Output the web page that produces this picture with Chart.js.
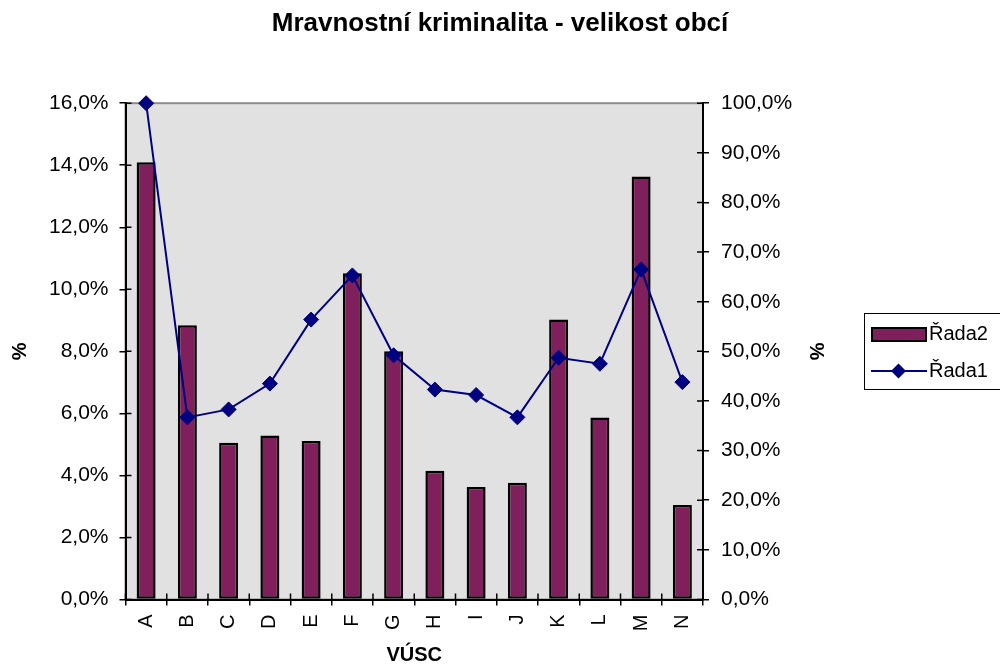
<!DOCTYPE html>
<html>
<head>
<meta charset="utf-8">
<script src="https://cdn.jsdelivr.net/npm/chart.js@4"></script>
<style>
  html, body { margin: 0; padding: 0; background: #fff; }
  #wrap { width: 1000px; height: 664px; }
</style>
</head>
<body>
<div id="wrap"><canvas id="graph" width="1000" height="664"></canvas></div>
<script>
const categories = ["A", "B", "C", "D", "E", "F", "G", "H", "I", "J", "K", "L", "M", "N"];
// Řada2 - bars, left axis (%)
const rada2 = [14.1, 8.84, 5.05, 5.29, 5.11, 10.52, 8.0, 4.15, 3.63, 3.76, 9.03, 5.87, 13.64, 3.05];
// Řada1 - line, right axis (%)
const rada1 = [100, 36.7, 38.3, 43.5, 56.4, 65.3, 49.2, 42.3, 41.2, 36.7, 48.7, 47.5, 66.5, 43.8];

const fontFamily = "'Liberation Sans', Arial, sans-serif";
Chart.defaults.font.family = fontFamily;
Chart.defaults.color = "#000";

const pct = (v) => Number(v).toFixed(1).replace(".", ",") + "%";

const graph = document.getElementById("graph");

// grey plot area behind everything
const plotBackground = {
  id: "plotBackground",
  beforeDraw(chart) {
    const { ctx, chartArea: a } = chart;
    ctx.save();
    ctx.fillStyle = "#fff";
    ctx.fillRect(0, 0, chart.width, chart.height);
    ctx.fillStyle = "#e1e1e1";
    ctx.fillRect(a.left, a.top, a.right - a.left, a.bottom - a.top);
    ctx.strokeStyle = "#8c8c8c";
    ctx.lineWidth = 2;
    ctx.strokeRect(a.left, a.top, a.right - a.left, a.bottom - a.top);
    ctx.restore();
  },
};

// tick marks cross the axes, draw the inner half
const innerTicks = {
  id: "innerTicks",
  beforeDatasetsDraw(chart) {
    const { ctx, chartArea: a, scales } = chart;
    ctx.save();
    ctx.strokeStyle = "#000";
    ctx.lineWidth = 1.5;
    ctx.beginPath();
    for (let i = 0; i <= categories.length; i++) {
      const x = scales.x.getPixelForValue(i - 0.5);
      ctx.moveTo(x, a.bottom);
      ctx.lineTo(x, a.bottom - 6);
    }
    scales.y.ticks.forEach((t) => {
      const y = scales.y.getPixelForValue(t.value);
      ctx.moveTo(a.left, y);
      ctx.lineTo(a.left + 6, y);
    });
    scales.y1.ticks.forEach((t) => {
      const y = scales.y1.getPixelForValue(t.value);
      ctx.moveTo(a.right, y);
      ctx.lineTo(a.right - 6, y);
    });
    ctx.stroke();
    ctx.restore();
  },
};

// boxed legend on the right
const boxLegend = {
  id: "boxLegend",
  afterDraw(chart) {
    const { ctx } = chart;
    const bar = chart.data.datasets[1];
    const line = chart.data.datasets[0];
    ctx.save();
    ctx.strokeStyle = "#000";
    ctx.lineWidth = 1;
    ctx.strokeRect(864.5, 313.5, 140, 76);

    ctx.fillStyle = bar.backgroundColor;
    ctx.fillRect(872, 328, 54, 13);
    ctx.lineWidth = 2;
    ctx.strokeRect(872, 328, 54, 13);

    ctx.strokeStyle = line.borderColor;
    ctx.lineWidth = 2;
    ctx.beginPath();
    ctx.moveTo(871, 371);
    ctx.lineTo(927, 371);
    ctx.stroke();
    ctx.fillStyle = line.pointBackgroundColor;
    ctx.beginPath();
    ctx.moveTo(898.5, 363.5);
    ctx.lineTo(906, 371);
    ctx.lineTo(898.5, 378.5);
    ctx.lineTo(891, 371);
    ctx.closePath();
    ctx.fill();

    ctx.fillStyle = "#000";
    ctx.font = "20px " + fontFamily;
    ctx.textBaseline = "middle";
    ctx.textAlign = "left";
    ctx.fillText(bar.label, 929, 334);
    ctx.fillText(line.label, 929, 371);
    ctx.restore();
  },
};

const data = {
  labels: categories,
  datasets: [
    {
      type: "line",
      label: "Řada1",
      data: rada1,
      yAxisID: "y1",
      borderColor: "#000080",
      borderWidth: 2,
      pointStyle: "rectRot",
      pointRadius: 7.5,
      pointBorderWidth: 1,
      pointBackgroundColor: "#000080",
      pointBorderColor: "#000080",
      tension: 0,
      clip: false,
      order: 1,
    },
    {
      type: "bar",
      label: "Řada2",
      data: rada2,
      yAxisID: "y",
      backgroundColor: "#7f1f5c",
      borderColor: "#000",
      borderWidth: 2.5,
      borderSkipped: false,
      categoryPercentage: 1,
      barPercentage: 0.46,
      order: 2,
    },
  ],
};

const config = {
  type: "bar",
  data,
  plugins: [plotBackground, innerTicks, boxLegend],
  options: {
    responsive: false,
    animation: false,
    layout: { padding: 0 },
    plugins: {
      legend: { display: false },
      tooltip: { enabled: false },
      title: {
        display: true,
        text: "Mravnostní kriminalita - velikost obcí",
        font: { size: 26, weight: "bold" },
        color: "#000",
        padding: { top: 8, bottom: 64 },
      },
    },
    scales: {
      x: {
        offset: true,
        grid: { offset: true, drawOnChartArea: false, tickLength: 6, color: "#000", lineWidth: 1.5 },
        border: { color: "#000", width: 2 },
        ticks: { minRotation: 90, maxRotation: 90, autoSkip: false, padding: 9, font: { size: 20 } },
        title: {
          display: true,
          text: "VÚSC",
          font: { size: 20, weight: "bold" },
          padding: { top: 0, bottom: -3 },
        },
        afterFit(scale) {
          scale.height = 64.5;
        },
      },
      y: {
        position: "left",
        min: 0,
        max: 16,
        ticks: { stepSize: 2, padding: 11, font: { size: 21 }, callback: (v) => pct(v) },
        grid: { drawOnChartArea: false, tickLength: 6, color: "#000", lineWidth: 1.5 },
        border: { color: "#000", width: 2 },
        title: { display: true, text: "%", font: { size: 20, weight: "bold" }, padding: { top: 8 } },
        afterFit(scale) {
          scale.width = 125.5;
        },
      },
      y1: {
        position: "right",
        min: 0,
        max: 100,
        ticks: { stepSize: 10, padding: 12, font: { size: 21 }, callback: (v) => pct(v) },
        grid: { drawOnChartArea: false, tickLength: 6, color: "#000", lineWidth: 1.5 },
        border: { color: "#000", width: 2 },
        title: { display: true, text: "%", font: { size: 20, weight: "bold" }, padding: { top: 172 } },
        afterFit(scale) {
          scale.width = 297;
        },
      },
    },
  },
};

const chart = new Chart(graph, config);
</script>
</body>
</html>
